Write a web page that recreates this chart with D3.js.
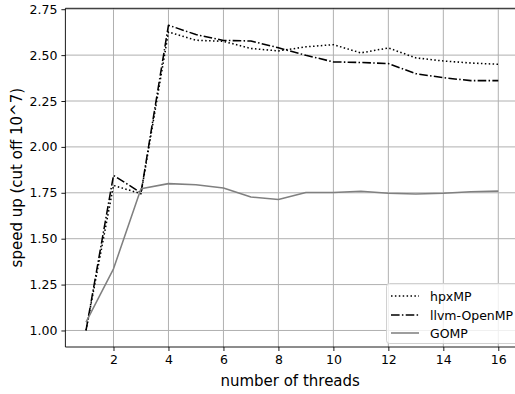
<!DOCTYPE html>
<html><head><meta charset="utf-8">
<script src="https://cdn.jsdelivr.net/npm/d3@7"></script>
<style>body{margin:0;background:#fff;} svg{display:block;} text{font-family:"DejaVu Sans",sans-serif;}</style>
</head><body>
<svg id="c" width="515" height="394"></svg>
<script>
const threads = [1,2,3,4,5,6,7,8,9,10,11,12,13,14,15,16];
const hpxMP = [1.00,1.79,1.745,2.626,2.581,2.575,2.536,2.523,2.545,2.557,2.512,2.539,2.485,2.468,2.457,2.450];
const llvmOpenMP = [1.00,1.845,1.75,2.663,2.612,2.580,2.577,2.540,2.499,2.463,2.460,2.454,2.399,2.377,2.361,2.361];
const GOMP = [1.045,1.336,1.772,1.800,1.794,1.776,1.727,1.714,1.752,1.752,1.758,1.747,1.743,1.747,1.756,1.759];
const xTicks = [2,4,6,8,10,12,14,16];
const yTicks = [1.00,1.25,1.50,1.75,2.00,2.25,2.50,2.75];
const seriesNames = ["hpxMP","llvm-OpenMP","GOMP"];

const svg = d3.select("#c");
const L = 65.4, R = 518.9, T = 8.3, B = 347;
const x = d3.scaleLinear().domain([0.25,16.75]).range([L,R]);
const y = d3.scaleLinear().domain([0.91,2.755]).range([B,T]);

// grid
const g = svg.append("g");
g.selectAll(".gx").data(xTicks).enter().append("line")
  .attr("x1",d=>x(d)).attr("x2",d=>x(d)).attr("y1",T).attr("y2",B)
  .attr("stroke","#b0b0b0").attr("stroke-width",1);
g.selectAll(".gy").data(yTicks).enter().append("line")
  .attr("x1",L).attr("x2",R).attr("y1",d=>y(d)).attr("y2",d=>y(d))
  .attr("stroke","#b0b0b0").attr("stroke-width",1);

const styles = [
  {data:hpxMP, color:"#000", dash:"1.5,2.4", w:1.55},
  {data:llvmOpenMP, color:"#000", dash:"8.6,2.3,1.5,2.3", w:1.55},
  {data:GOMP, color:"#808080", dash:null, w:1.55}
];
const line = d3.line().x((d,i)=>x(threads[i])).y(d=>y(d));
svg.append("clipPath").attr("id","cl").append("rect").attr("x",L).attr("y",T).attr("width",R-L).attr("height",B-T);
const lines = svg.append("g").attr("clip-path","url(#cl)");
styles.forEach(s=>{
  lines.append("path").attr("d",line(s.data)).attr("fill","none")
    .attr("stroke",s.color).attr("stroke-width",s.w)
    .attr("stroke-dasharray",s.dash).attr("stroke-linejoin","round");
});

// axes
const xa = svg.append("g").attr("transform",`translate(0,${B})`)
  .call(d3.axisBottom(x).tickValues(xTicks).tickSize(4).tickPadding(4).tickFormat(d3.format("d")));
const ya = svg.append("g").attr("transform",`translate(${L},0)`)
  .call(d3.axisLeft(y).tickValues(yTicks).tickSize(4).tickPadding(4).tickFormat(d3.format(".2f")));
[xa,ya].forEach(a=>{
  a.select(".domain").remove();
  a.selectAll("line").attr("stroke","#000").attr("stroke-width",0.9);
  a.selectAll("text").attr("font-size","12.5px").attr("fill","#000").attr("font-family","DejaVu Sans");
});
// spines
[[L,R,B,B],[L,R,T,T],[L,L,T,B],[R,R,T,B]].forEach(s=>{
  svg.append("line").attr("x1",s[0]).attr("x2",s[1]).attr("y1",s[2]).attr("y2",s[3]).attr("stroke","#000").attr("stroke-width",0.9);
});

// labels
svg.append("text").attr("x",(L+R)/2-2).attr("y",386).attr("text-anchor","middle")
  .attr("font-size","15px").attr("fill","#000").text("number of threads");
svg.append("text").attr("transform",`translate(22,${(T+B)/2}) rotate(-90)`).attr("text-anchor","middle")
  .attr("font-size","15px").attr("fill","#000").text("speed up (cut off 10^7)");

// legend
const lg = svg.append("g");
lg.append("rect").attr("x",386.5).attr("y",283.5).attr("width",140).attr("height",60).attr("rx",3)
  .attr("fill","#fff").attr("fill-opacity",0.8).attr("stroke","#cccccc").attr("stroke-width",0.9);
const ly = [296,315,333];
seriesNames.forEach((n,i)=>{
  const s = styles[i];
  lg.append("line").attr("x1",391).attr("x2",419).attr("y1",ly[i]).attr("y2",ly[i])
    .attr("stroke",s.color).attr("stroke-width",s.w).attr("stroke-dasharray",s.dash);
  lg.append("text").attr("x",430).attr("y",ly[i]).attr("dy","0.36em")
    .attr("font-size","12.5px").attr("fill","#000").text(n);
});
</script>
</body></html>
